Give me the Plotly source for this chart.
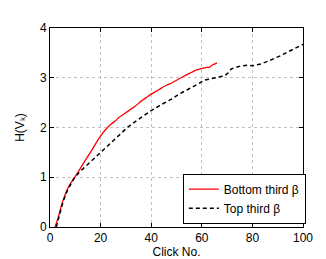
import plotly.graph_objects as go

bottom_x = [2, 3, 4.5, 6.5, 8, 9.75, 12, 13.7, 16, 18, 20.3, 22, 24.2, 26, 27, 29.5, 32, 34, 36, 38, 40, 43, 46, 48, 50, 53.2, 56, 58, 61, 62, 63, 64, 66]
bottom_y = [0, 0.15, 0.43, 0.72, 0.87, 1.0, 1.18, 1.32, 1.5, 1.67, 1.85, 1.96, 2.07, 2.14, 2.19, 2.28, 2.37, 2.44, 2.53, 2.6, 2.67, 2.76, 2.85, 2.89, 2.95, 3.04, 3.11, 3.16, 3.2, 3.21, 3.21, 3.25, 3.3]

top_x = [2.5, 3.5, 5.1, 7, 9.75, 12, 13.7, 17, 20.3, 23, 25.6, 28, 30.8, 34, 37, 40, 44, 48, 51, 54.5, 58, 61, 65, 69, 70.5, 71.7, 75.6, 78, 80, 83.5, 86, 88.8, 91, 94, 97, 100]
top_y = [0, 0.18, 0.5, 0.75, 1.0, 1.12, 1.2, 1.37, 1.52, 1.65, 1.77, 1.89, 2.01, 2.13, 2.24, 2.34, 2.46, 2.57, 2.67, 2.76, 2.86, 2.95, 3.0, 3.04, 3.1, 3.18, 3.24, 3.25, 3.24, 3.28, 3.33, 3.39, 3.44, 3.52, 3.6, 3.67]

x_ticks = [0, 20, 40, 60, 80, 100]
y_ticks = [0, 1, 2, 3, 4]

fig = go.Figure()
fig.add_trace(go.Scatter(x=bottom_x, y=bottom_y, mode="lines", name="Bottom third β",
                         line=dict(color="red", width=1.3, shape="spline", smoothing=0.6)))
fig.add_trace(go.Scatter(x=top_x, y=top_y, mode="lines", name="Top third β",
                         line=dict(color="black", width=1.5, dash="4px,3px")))

axis_common = dict(showline=True, linecolor="black", linewidth=1, mirror="ticks",
                   ticks="inside", ticklen=4, tickcolor="black",
                   showgrid=True, gridcolor="#c0c0c0", griddash="dot", gridwidth=1,
                   zeroline=False, tickfont=dict(size=12, color="black", family="Liberation Sans"))

fig.update_layout(
    width=326, height=259,
    margin=dict(l=42, r=31, t=20, b=30),
    paper_bgcolor="white", plot_bgcolor="white",
    font=dict(family="Liberation Sans", size=12, color="black"),
    xaxis=dict(range=[0, 100], tickvals=x_ticks, **axis_common,
               title=dict(text="Click No.", standoff=1, font=dict(size=12))),
    yaxis=dict(range=[0, 4], tickvals=y_ticks, **axis_common,
               title=dict(text="H(V\u2096)", standoff=12, font=dict(size=12))),
    legend=dict(x=0.525, y=0.268, xanchor="left", yanchor="top",
                bordercolor="black", borderwidth=1, bgcolor="white",
                font=dict(size=12), tracegroupgap=0, itemwidth=30),
    showlegend=True,
)

fig.write_html("out.html")
